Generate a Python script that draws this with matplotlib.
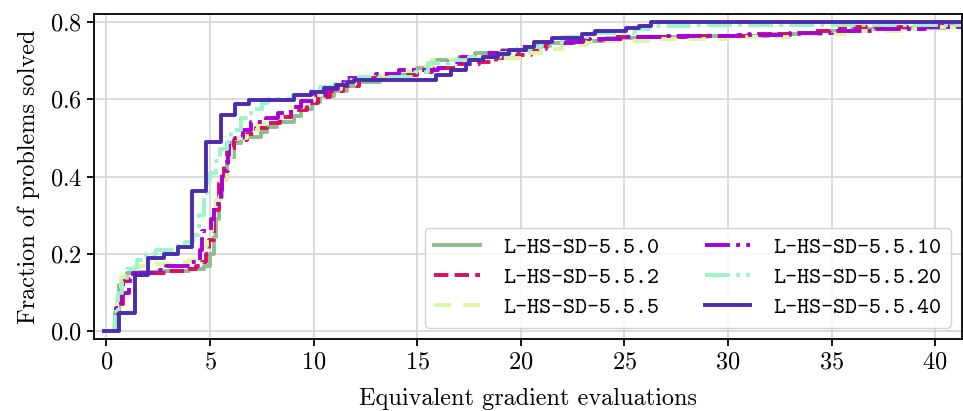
import matplotlib
matplotlib.use("Agg")
import matplotlib.pyplot as plt

plt.rcParams['font.family'] = ['cmr10', 'DejaVu Serif']
plt.rcParams['axes.formatter.use_mathtext'] = True
plt.rcParams['font.size'] = 17.5

# step curves: (evaluations, fraction solved)
x_0 = [0.0, 0.4, 0.6, 0.8, 1.0, 1.6, 2.5, 4.0, 4.7, 5.0, 5.19, 5.3, 5.43, 5.6, 5.82, 6.16, 6.48, 7.45, 7.76, 8.24,
       9.06, 9.4, 9.9, 10.3, 11.0, 11.6, 12.2, 13.2, 14.3, 15.0, 15.7, 17.0, 17.8, 19.1, 20.6, 21.4, 22.6, 24.1,
       26.0, 29.0, 32.0, 34.5, 36.0, 38.0, 40.5, 41.3]
y_0 = [0.0, 0.05, 0.12, 0.14, 0.15, 0.153, 0.156, 0.16, 0.17, 0.2, 0.244, 0.29, 0.347, 0.4, 0.45, 0.486, 0.503, 0.515, 0.528, 0.541,
       0.556, 0.575, 0.592, 0.608, 0.62, 0.633, 0.645, 0.655, 0.668, 0.68, 0.7, 0.71, 0.72, 0.727, 0.738, 0.744, 0.75, 0.757,
       0.76, 0.764, 0.768, 0.775, 0.78, 0.785, 0.79, 0.79]

x_2 = [0.0, 0.4, 0.55, 0.8, 1.3, 2.0, 3.0, 3.8, 4.3, 4.6, 4.8, 4.95, 5.19, 5.43, 5.67, 5.82, 6.16, 6.8, 7.2, 7.76,
       8.4, 8.9, 9.7, 10.2, 10.8, 11.4, 12.2, 14.0, 15.0, 15.7, 16.9, 18.0, 18.8, 19.8, 20.5, 21.2, 22.5, 24.5,
       28.0, 31.0, 34.0, 35.4, 39.5, 41.3]
y_2 = [0.0, 0.03, 0.07, 0.13, 0.145, 0.15, 0.155, 0.16, 0.17, 0.18, 0.2, 0.235, 0.313, 0.383, 0.434, 0.468, 0.494, 0.511, 0.525, 0.538,
       0.554, 0.572, 0.589, 0.605, 0.62, 0.635, 0.655, 0.662, 0.67, 0.68, 0.69, 0.695, 0.705, 0.715, 0.73, 0.745, 0.752, 0.76,
       0.763, 0.768, 0.775, 0.786, 0.79, 0.79]

x_5 = [0.0, 0.35, 0.5, 0.7, 0.9, 1.3, 1.6, 2.4, 3.2, 4.0, 4.3, 4.6, 4.85, 5.1, 5.3, 5.5, 5.8, 6.0, 6.3, 6.8,
       7.3, 7.8, 8.4, 9.0, 9.5, 10.0, 10.6, 11.3, 12.0, 13.0, 14.2, 15.0, 15.7, 17.5, 19.4, 20.2, 21.0, 22.0,
       23.2, 24.0, 26.5, 30.0, 33.0, 36.0, 38.5, 40.0, 41.3]
y_5 = [0.0, 0.04, 0.09, 0.14, 0.155, 0.165, 0.17, 0.175, 0.178, 0.185, 0.2, 0.22, 0.26, 0.31, 0.34, 0.39, 0.45, 0.47, 0.5, 0.52,
       0.535, 0.55, 0.565, 0.58, 0.595, 0.61, 0.625, 0.64, 0.65, 0.66, 0.672, 0.685, 0.7, 0.705, 0.706, 0.72, 0.73, 0.74,
       0.747, 0.75, 0.755, 0.76, 0.768, 0.776, 0.782, 0.787, 0.787]

x_10 = [0.0, 0.45, 0.7, 1.1, 1.3, 2.5, 2.9, 4.1, 4.5, 4.6, 5.05, 5.2, 5.55, 5.6, 5.85, 5.9, 6.2, 6.6, 7.0, 7.7,
        8.3, 8.9, 9.4, 10.0, 10.6, 11.2, 11.6, 13.0, 14.1, 16.0, 16.5, 17.1, 18.3, 19.1, 20.0, 21.0, 22.2, 23.0,
        25.0, 27.0, 30.5, 33.0, 35.0, 37.0, 39.5, 41.3]
y_10 = [0.0, 0.06, 0.1, 0.135, 0.15, 0.158, 0.17, 0.18, 0.21, 0.26, 0.29, 0.33, 0.365, 0.415, 0.455, 0.486, 0.5, 0.52, 0.54, 0.55,
        0.565, 0.58, 0.595, 0.61, 0.625, 0.645, 0.655, 0.665, 0.675, 0.68, 0.695, 0.71, 0.718, 0.725, 0.735, 0.745, 0.748, 0.755,
        0.76, 0.762, 0.766, 0.772, 0.776, 0.78, 0.786, 0.786]

x_20 = [0.0, 0.4, 0.55, 0.75, 1.0, 1.5, 1.9, 2.4, 3.3, 3.8, 4.2, 4.45, 4.7, 4.85, 5.0, 5.3, 5.5, 5.8, 6.0, 6.5,
        7.0, 7.5, 7.8, 9.0, 9.8, 10.3, 11.0, 11.7, 12.2, 14.9, 15.5, 16.7, 17.5, 19.0, 19.8, 20.5, 21.0, 22.0,
        23.5, 25.5, 26.2, 28.1, 41.3]
y_20 = [0.0, 0.05, 0.1, 0.13, 0.16, 0.185, 0.2, 0.21, 0.22, 0.23, 0.25, 0.3, 0.35, 0.39, 0.41, 0.44, 0.47, 0.49, 0.52, 0.55,
        0.575, 0.59, 0.6, 0.61, 0.62, 0.632, 0.64, 0.65, 0.658, 0.67, 0.693, 0.7, 0.71, 0.72, 0.73, 0.735, 0.745, 0.76,
        0.77, 0.78, 0.788, 0.792, 0.792]

x_40 = [-0.1, 0.63, 1.38, 2.02, 2.76, 3.45, 4.13, 4.83, 5.55, 6.2, 6.88, 9.06, 9.86, 10.5, 11.07, 11.63, 11.96, 15.9,
        16.63, 17.35, 17.5, 18.2, 18.9, 19.44, 20.25, 20.65, 21.5, 22.97, 23.6, 25.08, 25.7, 26.3, 41.3]
y_40 = [0.0, 0.047, 0.145, 0.19, 0.2, 0.217, 0.362, 0.49, 0.558, 0.587, 0.598, 0.61, 0.619, 0.628, 0.636, 0.645, 0.65, 0.662,
        0.675, 0.692, 0.701, 0.709, 0.716, 0.727, 0.735, 0.748, 0.757, 0.768, 0.777, 0.783, 0.79, 0.8, 0.8]

labels = ['L-HS-SD-5.5.0', 'L-HS-SD-5.5.2', 'L-HS-SD-5.5.5', 'L-HS-SD-5.5.10', 'L-HS-SD-5.5.20', 'L-HS-SD-5.5.40']
colors = ['#8fbc8f', '#dc0f5a', '#dcf7a0', '#a800d8', '#9af5c8', '#4b2bb0']
styles = ['-', '--', (0, (4.4, 3.1)), '-.', '-.', '-']
xs = [x_0, x_2, x_5, x_10, x_20, x_40]
ys = [y_0, y_2, y_5, y_10, y_20, y_40]

fig = plt.figure(figsize=(9.63, 4.11), dpi=100)
ax = fig.add_axes([0.0976, 0.175, 0.9014, 0.791])

for x, y, c, ls, lab in zip(xs, ys, colors, styles, labels):
    ax.step(x, y, where='post', color=c, ls=ls, lw=2.8, label=lab)

ax.set_xlim(-0.6, 41.3)
ax.set_ylim(-0.02, 0.82)
ax.set_xticks([0, 5, 10, 15, 20, 25, 30, 35, 40])
ax.set_yticks([0.0, 0.2, 0.4, 0.6, 0.8])
ax.grid(True, color='#d6d6d6', lw=1.2)
ax.set_axisbelow(True)
for s in ax.spines.values():
    s.set_linewidth(1.3)
ax.tick_params(width=1.3, length=5)

ax.set_xlabel('Equivalent gradient evaluations', labelpad=11)
ax.set_ylabel('Fraction of problems solved', labelpad=7)

ax.legend(ncol=2, loc='lower right', prop={'family': 'cmtt10', 'size': 16.5},
          columnspacing=2.0, handletextpad=1.0, labelspacing=0.4, framealpha=0.85)

fig.savefig('out.png', dpi=100)
